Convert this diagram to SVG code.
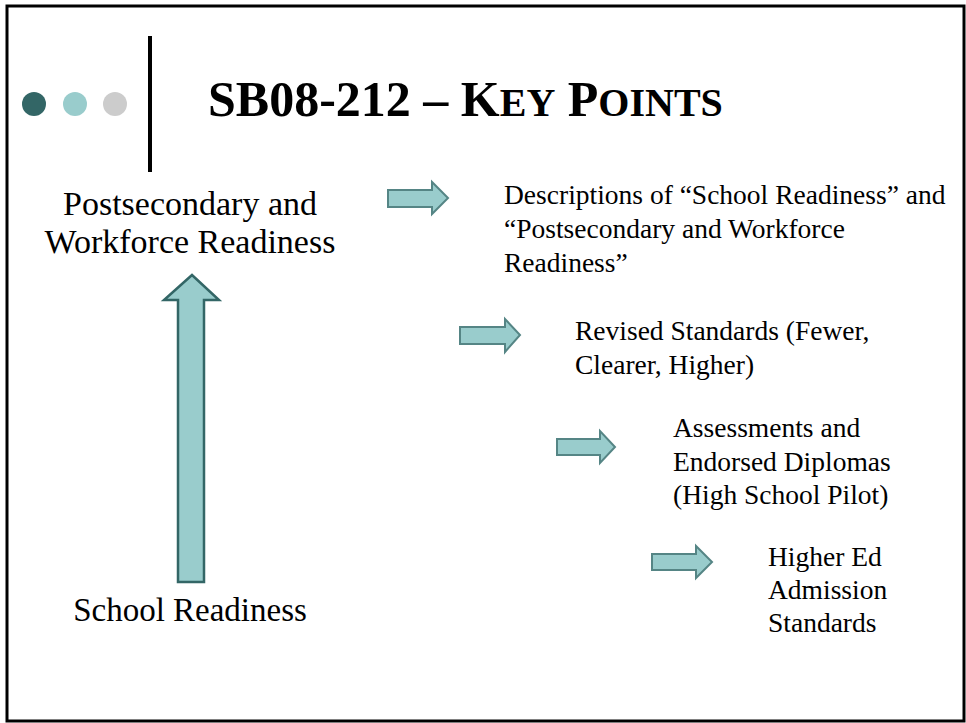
<svg xmlns="http://www.w3.org/2000/svg" width="966" height="723" viewBox="0 0 966 723">
<style>
.t{font-family:"Liberation Serif","Times New Roman",serif;fill:#000}
.l{font-size:34px}
.s{font-size:33px}
.r{font-size:27.5px}
.ttl{font-size:50px;font-weight:bold}
.sc{font-size:40px}
.arr{fill:#99CCCC;stroke:#558585;stroke-width:2;stroke-linejoin:miter}
.big{fill:#99CCCC;stroke:#336666;stroke-width:2.5}
</style>
<rect x="0" y="0" width="966" height="723" fill="#fff"/>
<rect x="7" y="6" width="957" height="715" fill="none" stroke="#000" stroke-width="3"/>
<g id="header">
<line x1="150" y1="36" x2="150" y2="172" stroke="#000" stroke-width="4"/>
<circle cx="34" cy="104" r="12" fill="#336666"/>
<circle cx="75" cy="104" r="12" fill="#99CCCC"/>
<circle cx="115" cy="104" r="12" fill="#CCCCCC"/>
<text class="t ttl" x="208" y="116">SB08-212 – K<tspan class="sc">EY</tspan> P<tspan class="sc">OINTS</tspan></text>
</g>
<g id="node-postsecondary">
<text class="t l" x="190" y="215" text-anchor="middle">Postsecondary and</text>
<text class="t l" x="190" y="253" text-anchor="middle">Workforce Readiness</text>
</g>
<g id="node-school">
<text class="t s" x="190" y="621" text-anchor="middle">School Readiness</text>
</g>
<g id="node-descriptions">
<text class="t r" x="504" y="204">Descriptions of “School Readiness” and</text>
<text class="t r" x="504" y="238">“Postsecondary and Workforce</text>
<text class="t r" x="504" y="272">Readiness”</text>
</g>
<g id="node-revised">
<text class="t r" x="575" y="340">Revised Standards (Fewer,</text>
<text class="t r" x="575" y="374">Clearer, Higher)</text>
</g>
<g id="node-assessments">
<text class="t r" x="673" y="437">Assessments and</text>
<text class="t r" x="673" y="471">Endorsed Diplomas</text>
<text class="t r" x="673" y="504">(High School Pilot)</text>
</g>
<g id="node-highered">
<text class="t r" x="768" y="566">Higher Ed</text>
<text class="t r" x="768" y="599">Admission</text>
<text class="t r" x="768" y="632">Standards</text>
</g>
<g id="connectors">
<polygon class="big" points="178,582 204,582 204,300 219,300 192,275 164,300 178,300"/>
<polygon class="arr" points="388,190 432,190 432,182 448,198 432,214 432,207 388,207"/>
<polygon class="arr" points="460,327 505,327 505,319 520,335 505,352 505,344 460,344"/>
<polygon class="arr" points="557,439 600,439 600,431 615,447 600,463 600,455 557,455"/>
<polygon class="arr" points="652,554 696,554 696,546 712,562 696,578 696,570 652,570"/>
</g>
</svg>
